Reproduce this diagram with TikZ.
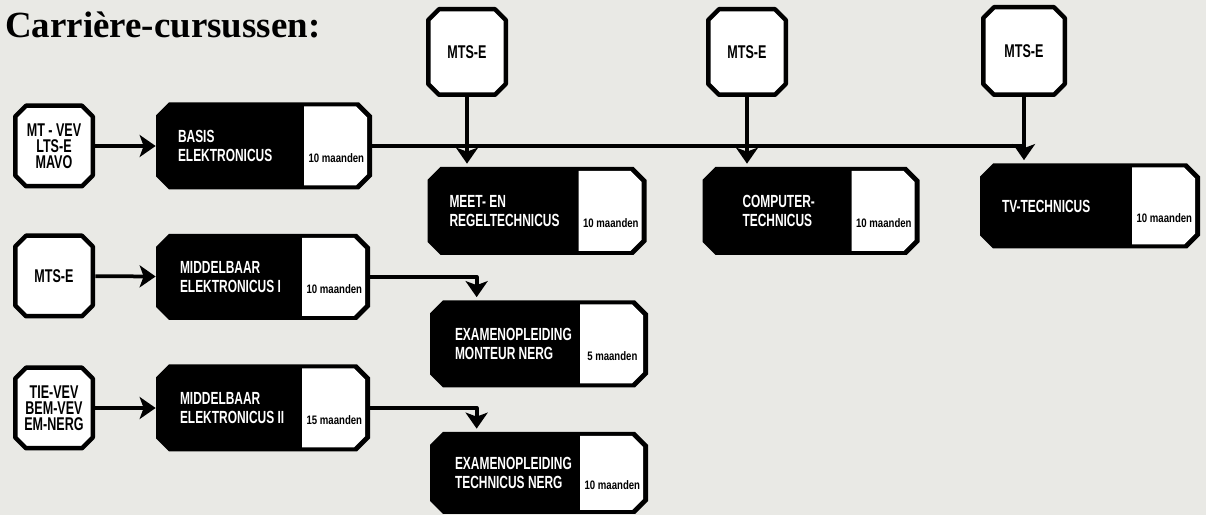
\documentclass[tikz,border=0pt]{standalone}
\usepackage{fontspec}
\usetikzlibrary{arrows.meta}
\newfontfamily\kopfont{Liberation Serif}
\newfontfamily\doosfont[FakeStretch=0.68]{Liberation Sans}
\newfontfamily\duurfont[FakeStretch=0.78]{Liberation Sans}
\newlength\pxl \setlength\pxl{0.2mm}
\definecolor{papier}{RGB}{233,233,229}
% achthoek om een knoop: knoop, schuinte, inspringing
\newcommand\schuin[3]{([xshift=#2, yshift=-#3]#1.north west) -- ([xshift=-#2, yshift=-#3]#1.north east)
  -- ([xshift=-#3, yshift=-#2]#1.north east) -- ([xshift=-#3, yshift=#2]#1.south east)
  -- ([xshift=-#2, yshift=#3]#1.south east) -- ([xshift=#2, yshift=#3]#1.south west)
  -- ([xshift=#3, yshift=#2]#1.south west) -- ([xshift=#3, yshift=-#2]#1.north west) -- cycle}
\tikzset{
  invoer/.style={minimum width=82*\pxl, minimum height=85*\pxl, inner sep=0pt, align=center,
    font=\doosfont\bfseries\fontsize{10.5}{9.2}\selectfont,
    path picture={\filldraw[fill=white, line width=0.9mm] \schuin{path picture bounding box}{13*\pxl}{0.45mm};}},
  cursus/.style={inner sep=0pt,
    path picture={\fill \schuin{path picture bounding box}{13*\pxl}{0pt};
      \fill[white] ([xshift=-68*\pxl, yshift=-4*\pxl]path picture bounding box.north east)
        -- ([xshift=-16*\pxl, yshift=-4*\pxl]path picture bounding box.north east)
        -- ([xshift=-5*\pxl, yshift=-15*\pxl]path picture bounding box.north east)
        -- ([xshift=-5*\pxl, yshift=15*\pxl]path picture bounding box.south east)
        -- ([xshift=-16*\pxl, yshift=4*\pxl]path picture bounding box.south east)
        -- ([xshift=-68*\pxl, yshift=4*\pxl]path picture bounding box.south east) -- cycle;}},
  cursustekst/.style={text=white, align=left, inner sep=0pt, font=\doosfont\bfseries\fontsize{10}{10.5}\selectfont},
  duur/.style={inner sep=0pt, font=\duurfont\bfseries\fontsize{7}{7}\selectfont},
  lijn/.style={line width=0.75mm},
  pijl/.style={lijn, -{Stealth[length=3.2mm, width=4.4mm, inset=0.8mm]}},
}
% cursus: [tekstinspringing] naam, plaats, breedte, hoogte, tekst, duur
\newcommand\cursus[7][22]{%
  \node[cursus, minimum width=#4*\pxl, minimum height=#5*\pxl] (#2) at #3 {};
  \node[cursustekst, anchor=west] (#2-t) at ([xshift=#1*\pxl]#2.west) {#6};
  \node[duur] (#2-d) at ([xshift=-36*\pxl, yshift=-12*\pxl]#2.east) {#7};
}
\begin{document}
\begin{tikzpicture}[x=0.2mm, y=-0.2mm, line join=round]
\fill[papier] (0,0) rectangle (1206,515);
\node[anchor=base west, inner sep=0pt, font=\kopfont\bfseries\fontsize{21}{21}\selectfont] (kop) at (5,38) {Carrière-cursussen:};
% vooropleidingen
\node[invoer] (mtvev) at (54,146) {MT - VEV\\LTS-E\\MAVO};
\node[invoer] (mtsa) at (54,276) {MTS-E};
\node[invoer] (tievev) at (54,408) {TIE-VEV\\BEM-VEV\\EM-NERG};
\node[invoer, minimum height=90*\pxl] (mtsb) at (467,52) {MTS-E};
\node[invoer, minimum height=90*\pxl] (mtsc) at (747,52) {MTS-E};
\node[invoer, minimum width=86*\pxl, minimum height=92*\pxl] (mtsd) at (1024,51) {MTS-E};
% cursussen
\cursus{basis}{(264,146)}{216}{87}{BASIS\\ELEKTRONICUS}{10 maanden}
\cursus[24]{midI}{(263,277)}{214}{86}{MIDDELBAAR\\ELEKTRONICUS I}{10 maanden}
\cursus[24]{midII}{(263,408)}{214}{87}{MIDDELBAAR\\ELEKTRONICUS II}{15 maanden}
\cursus{meet}{(537,211)}{219}{88}{MEET- EN\\REGELTECHNICUS}{10 maanden}
\cursus[40]{comp}{(811,211)}{217}{88}{COMPUTER-\\TECHNICUS}{10 maanden}
\cursus{tv}{(1090,206)}{220}{85}{TV-TECHNICUS}{10 maanden}
\cursus[25]{monteur}{(539,344)}{218}{87}{EXAMENOPLEIDING\\MONTEUR NERG}{5 maanden}
\cursus[25]{technicus}{(539,473)}{218}{82}{EXAMENOPLEIDING\\TECHNICUS NERG}{10 maanden}
% verbindingen
\draw[pijl] (mtvev) -- (basis);
\draw[pijl] (mtsa) -- (midI);
\draw[pijl] (tievev) -- (midII);
\draw[lijn] (basis.east) -- (basis.east -| mtsd);
\draw[pijl, shorten >=0.6mm] (mtsb) -- (mtsb |- meet.north);
\draw[pijl, shorten >=0.6mm] (mtsc) -- (mtsc |- comp.north);
\draw[pijl, shorten >=0.6mm] (mtsd) -- (mtsd |- tv.north);
\draw[pijl, shorten >=0.6mm] (midI.east) -| ([xshift=47*\pxl]monteur.north west);
\draw[pijl, shorten >=0.6mm] (midII.east) -| ([xshift=47*\pxl]technicus.north west);
\end{tikzpicture}
\end{document}
